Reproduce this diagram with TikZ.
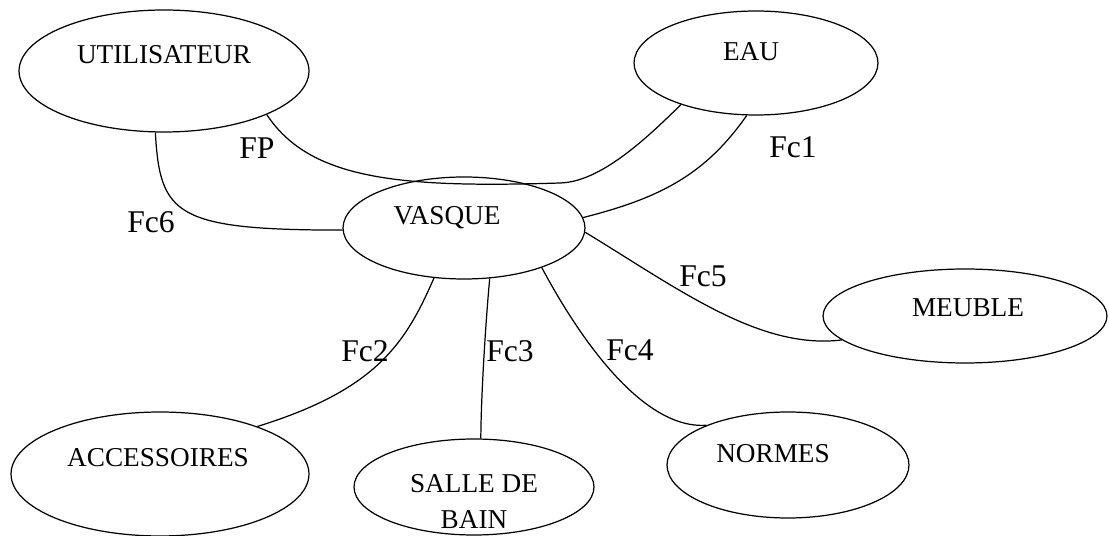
\documentclass[tikz,border=0pt]{standalone}
\usepackage{fontspec}
\setmainfont{Liberation Serif}
\usetikzlibrary{shapes.geometric}

\begin{document}
\begin{tikzpicture}
	[x=0.02cm,y=-0.02cm,
	 bloc/.style={ellipse,draw,line width=0.7pt,inner sep=0pt},
	 nom/.style={font=\fontsize{15.5}{20.5}\selectfont,inner sep=0pt,align=center},
	 fc/.style={font=\fontsize{18}{20}\selectfont,inner sep=0pt},
	 lien/.style={line width=0.7pt}]
    \useasboundingbox (0,0) rectangle (1109,536);

    \node[bloc,minimum width=5.8cm,minimum height=2.44cm] (user) at (164,71) {};
    \node[bloc,minimum width=4.88cm,minimum height=2.08cm] (eau) at (756,63) {};
    \node[bloc,minimum width=4.84cm,minimum height=2.04cm] (vasque) at (464,228) {};
    \node[bloc,minimum width=5.68cm,minimum height=1.88cm] (meuble) at (965,316) {};
    \node[bloc,minimum width=5.96cm,minimum height=2.48cm] (acc) at (160,474) {};
    \node[bloc,minimum width=4.8cm,minimum height=1.92cm] (salle) at (474,487) {};
    \node[bloc,minimum width=4.84cm,minimum height=2.12cm] (normes) at (788,465) {};

    \node[nom] (user-t) at (164,55) {UTILISATEUR};
    \node[nom] (eau-t) at (751,52) {EAU};
    \node[nom] (vasque-t) at (447,218) {VASQUE};
    \node[nom] (meuble-t) at (968,308) {MEUBLE};
    \node[nom] (acc-t) at (158,458) {ACCESSOIRES};
    \node[nom] (salle-t) at (474,502) {SALLE DE\\BAIN};
    \node[nom] (normes-t) at (773,454) {NORMES};

    \draw[lien] (user.-23) .. controls (310,180) and (400,188) .. (560,183)
                           .. controls (600,182) and (645,140) .. (eau.209);
    \draw[lien] (vasque.5) .. controls (660,198) and (705,175) .. (eau.-100);
    \draw[lien] (user.-98) .. controls (160,215) and (175,230) .. (vasque.181);
    \draw[lien] (vasque.-2) .. controls (680,290) and (760,350) .. (meuble.191);
    \draw[lien] (vasque.-27) .. controls (575,330) and (640,430) .. (normes.154);
    \draw[lien] (vasque.-63) .. controls (485,330) and (481,400) .. (salle.82);
    \draw[lien] (vasque.-121) .. controls (405,345) and (375,390) .. (acc.26);

    \node[fc] (fp) at (257,148) {FP};
    \node[fc] (fc1) at (793,147) {Fc1};
    \node[fc] (fc2) at (365,351) {Fc2};
    \node[fc] (fc3) at (510,351) {Fc3};
    \node[fc] (fc4) at (630,350) {Fc4};
    \node[fc] (fc5) at (703,276) {Fc5};
    \node[fc] (fc6) at (151,222) {Fc6};

\end{tikzpicture}
\end{document}
